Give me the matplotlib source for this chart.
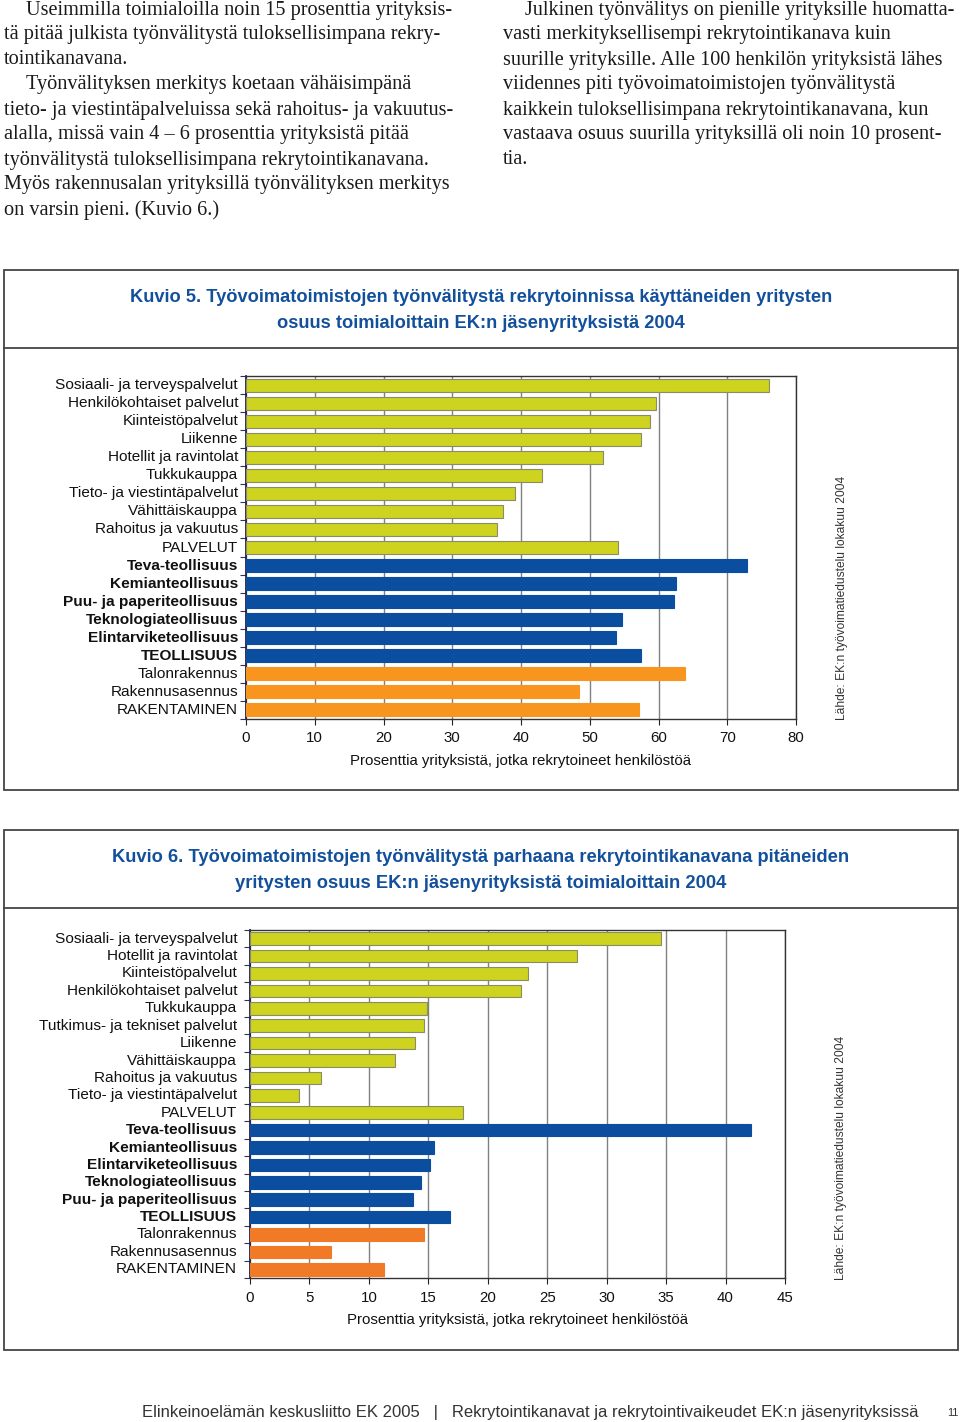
import matplotlib
matplotlib.use("Agg")
import matplotlib.pyplot as plt
from matplotlib.patches import Rectangle
from matplotlib.lines import Line2D
import numpy as np

W, H = 960, 1422

# ---------------- data ----------------
left_text = [
    "Useimmilla toimialoilla noin 15 prosenttia yrityksis-",
    "tä pitää julkista työnvälitystä tuloksellisimpana rekry-",
    "tointikanavana.",
    "Työnvälityksen merkitys koetaan vähäisimpänä",
    "tieto- ja viestintäpalveluissa sekä rahoitus- ja vakuutus-",
    "alalla, missä vain 4 – 6 prosenttia yrityksistä pitää",
    "työnvälitystä tuloksellisimpana rekrytointikanavana.",
    "Myös rakennusalan yrityksillä työnvälityksen merkitys",
    "on varsin pieni. (Kuvio 6.)",
]
left_indent = [True, False, False, True, False, False, False, False, False]
right_text = [
    "Julkinen työnvälitys on pienille yrityksille huomatta-",
    "vasti merkityksellisempi rekrytointikanava kuin",
    "suurille yrityksille. Alle 100 henkilön yrityksistä lähes",
    "viidennes piti työvoimatoimistojen työnvälitystä",
    "kaikkein tuloksellisimpana rekrytointikanavana, kun",
    "vastaava osuus suurilla yrityksillä oli noin 10 prosent-",
    "tia.",
]
right_indent = [True, False, False, False, False, False, False]

title1 = ["Kuvio 5. Työvoimatoimistojen työnvälitystä rekrytoinnissa käyttäneiden yritysten",
          "osuus toimialoittain EK:n jäsenyrityksistä 2004"]
cats1 = ["Sosiaali- ja terveyspalvelut", "Henkilökohtaiset palvelut", "Kiinteistöpalvelut",
         "Liikenne", "Hotellit ja ravintolat", "Tukkukauppa", "Tieto- ja viestintäpalvelut",
         "Vähittäiskauppa", "Rahoitus ja vakuutus", "PALVELUT",
         "Teva-teollisuus", "Kemianteollisuus", "Puu- ja paperiteollisuus",
         "Teknologiateollisuus", "Elintarviketeollisuus", "TEOLLISUUS",
         "Talonrakennus", "Rakennusasennus", "RAKENTAMINEN"]
vals1 = [76.0, 59.6, 58.7, 57.4, 51.9, 43.0, 39.1, 37.4, 36.5, 54.1,
         72.8, 62.5, 62.3, 54.7, 53.8, 57.5,
         63.8, 48.5, 57.1]
groups1 = ["p"] * 10 + ["t"] * 6 + ["r"] * 3
xticks1 = [0, 10, 20, 30, 40, 50, 60, 70, 80]

title2 = ["Kuvio 6. Työvoimatoimistojen työnvälitystä parhaana rekrytointikanavana pitäneiden",
          "yritysten osuus EK:n jäsenyrityksistä toimialoittain 2004"]
cats2 = ["Sosiaali- ja terveyspalvelut", "Hotellit ja ravintolat", "Kiinteistöpalvelut",
         "Henkilökohtaiset palvelut", "Tukkukauppa", "Tutkimus- ja tekniset palvelut",
         "Liikenne", "Vähittäiskauppa", "Rahoitus ja vakuutus", "Tieto- ja viestintäpalvelut",
         "PALVELUT",
         "Teva-teollisuus", "Kemianteollisuus", "Elintarviketeollisuus",
         "Teknologiateollisuus", "Puu- ja paperiteollisuus", "TEOLLISUUS",
         "Talonrakennus", "Rakennusasennus", "RAKENTAMINEN"]
vals2 = [34.6, 27.5, 23.4, 22.8, 14.9, 14.6, 13.9, 12.2, 6.0, 4.1, 17.9,
         42.1, 15.5, 15.1, 14.4, 13.7, 16.8,
         14.6, 6.8, 11.3]
groups2 = ["p"] * 11 + ["t"] * 6 + ["r"] * 3
xticks2 = [0, 5, 10, 15, 20, 25, 30, 35, 40, 45]

bold_labels = {"Teva-teollisuus", "Kemianteollisuus", "Puu- ja paperiteollisuus",
               "Teknologiateollisuus", "Elintarviketeollisuus", "TEOLLISUUS"}

xlabel = "Prosenttia yrityksistä, jotka rekrytoineet henkilöstöä"
source = "Lähde: EK:n työvoimatiedustelu lokakuu 2004"
footer = "Elinkeinoelämän keskusliitto EK 2005   |   Rekrytointikanavat ja rekrytointivaikeudet EK:n jäsenyrityksissä"
pageno = "11"

# ---------------- styles ----------------
YEL = "#CDD31F"
BLUE = "#0B4EA0"
ORANGE1 = "#F7951F"
ORANGE2 = "#F17A26"
TITLE_COL = "#13509C"
SANS = ["Liberation Sans", "DejaVu Sans"]
NARROW = ["Liberation Sans Narrow", "Liberation Sans", "DejaVu Sans"]
SERIF = ["Liberation Serif", "DejaVu Serif"]

fig = plt.figure(figsize=(W / 100, H / 100), dpi=100)


def fx(x):
    return x / W


def fy(y):
    return 1 - y / H


def pt(px):
    return px * 0.72


# ---------------- body text ----------------
for i, (line, ind) in enumerate(zip(left_text, left_indent)):
    fig.text(fx(26 if ind else 4), fy(10 + 25 * i), line, fontsize=pt(20.3),
             family=SERIF, color="#1a1a1a", va="center", ha="left")
for i, (line, ind) in enumerate(zip(right_text, right_indent)):
    fig.text(fx(525 if ind else 503), fy(10 + 25 * i), line, fontsize=pt(20.3),
             family=SERIF, color="#1a1a1a", va="center", ha="left")


def frame(y0, y1, ysep):
    fig.patches.append(Rectangle((fx(4), fy(y1)), fx(958) - fx(4), fy(y0) - fy(y1),
                                 transform=fig.transFigure, fill=False,
                                 edgecolor="#444444", lw=1.3))
    fig.lines.append(Line2D([fx(4), fx(958)], [fy(ysep), fy(ysep)],
                            transform=fig.transFigure, color="#444444", lw=1.3))


def chart(box_top, box_bot, ysep, titles, title_y, title_px, ax_rect, cats, vals, groups,
          xticks, orange, label_x, src_x, src_y):
    frame(box_top, box_bot, ysep)
    for t, ty in zip(titles, title_y):
        fig.text(fx(481), fy(ty), t, fontsize=pt(title_px), family=NARROW, weight="bold",
                 color=TITLE_COL, ha="center", va="center")
    x0, x1, y0, y1 = ax_rect
    ax = fig.add_axes([fx(x0), fy(y1), fx(x1) - fx(x0), fy(y0) - fy(y1)])
    n = len(cats)
    pos = np.arange(n)
    cmap = {"p": YEL, "t": BLUE, "r": orange}
    cols = [cmap[g] for g in groups]
    edges = ["#8c8c64" if g == "p" else c for g, c in zip(groups, cols)]
    ax.barh(pos, vals, height=0.72, color=cols, edgecolor=edges, linewidth=0.8, zorder=3)
    ax.set_ylim(n - 0.5, -0.5)
    ax.set_xlim(xticks[0], xticks[-1])
    ax.set_xticks(xticks)
    ax.set_xticklabels([str(v) for v in xticks], family=SANS, fontsize=pt(15), color="#111111")
    ax.tick_params(axis="x", length=4, width=0.8, pad=5, color="#222222")
    ax.set_yticks(np.arange(n + 1) - 0.5)
    ax.set_yticklabels([])
    ax.tick_params(axis="y", length=4, width=0.8, color="#333355")
    for i, c in enumerate(cats):
        ax.text(label_x, i, c, transform=ax.get_yaxis_transform(), ha="right", va="center",
                family=SANS, fontsize=pt(15.4), color="#111111",
                weight="bold" if c in bold_labels else "normal")
    ax.grid(axis="x", color="#808080", lw=1.0, zorder=0)
    for s in ax.spines.values():
        s.set_color("#333333")
        s.set_linewidth(1.0)
    ax.spines["left"].set_color("#22224a")
    ax.spines["left"].set_linewidth(1.3)
    ax.set_xlabel(xlabel, family=SANS, fontsize=pt(15), color="#111111", labelpad=6)
    ax.set_facecolor("white")
    fig.text(fx(src_x), fy(src_y), source, rotation=90, family=SANS,
             fontsize=pt(12), color="#333333", ha="center", va="center")
    return ax


chart(270, 790, 348, title1, [298, 323], 18.3, (246, 796, 376, 719), cats1, vals1, groups1,
      xticks1, ORANGE1, -0.0145, 842, 598)
chart(830, 1350, 908, title2, [858, 883], 18.4, (250, 785, 930, 1278), cats2, vals2, groups2,
      xticks2, ORANGE2, -0.024, 841, 1158)

# ---------------- footer ----------------
fig.text(fx(918), fy(1412), footer, family=NARROW, fontsize=pt(16.6), color="#333333",
         ha="right", va="center")
fig.text(fx(953), fy(1413), pageno, family=NARROW, fontsize=pt(11), color="#333333",
         ha="center", va="center")

fig.savefig("out.png", dpi=100)
